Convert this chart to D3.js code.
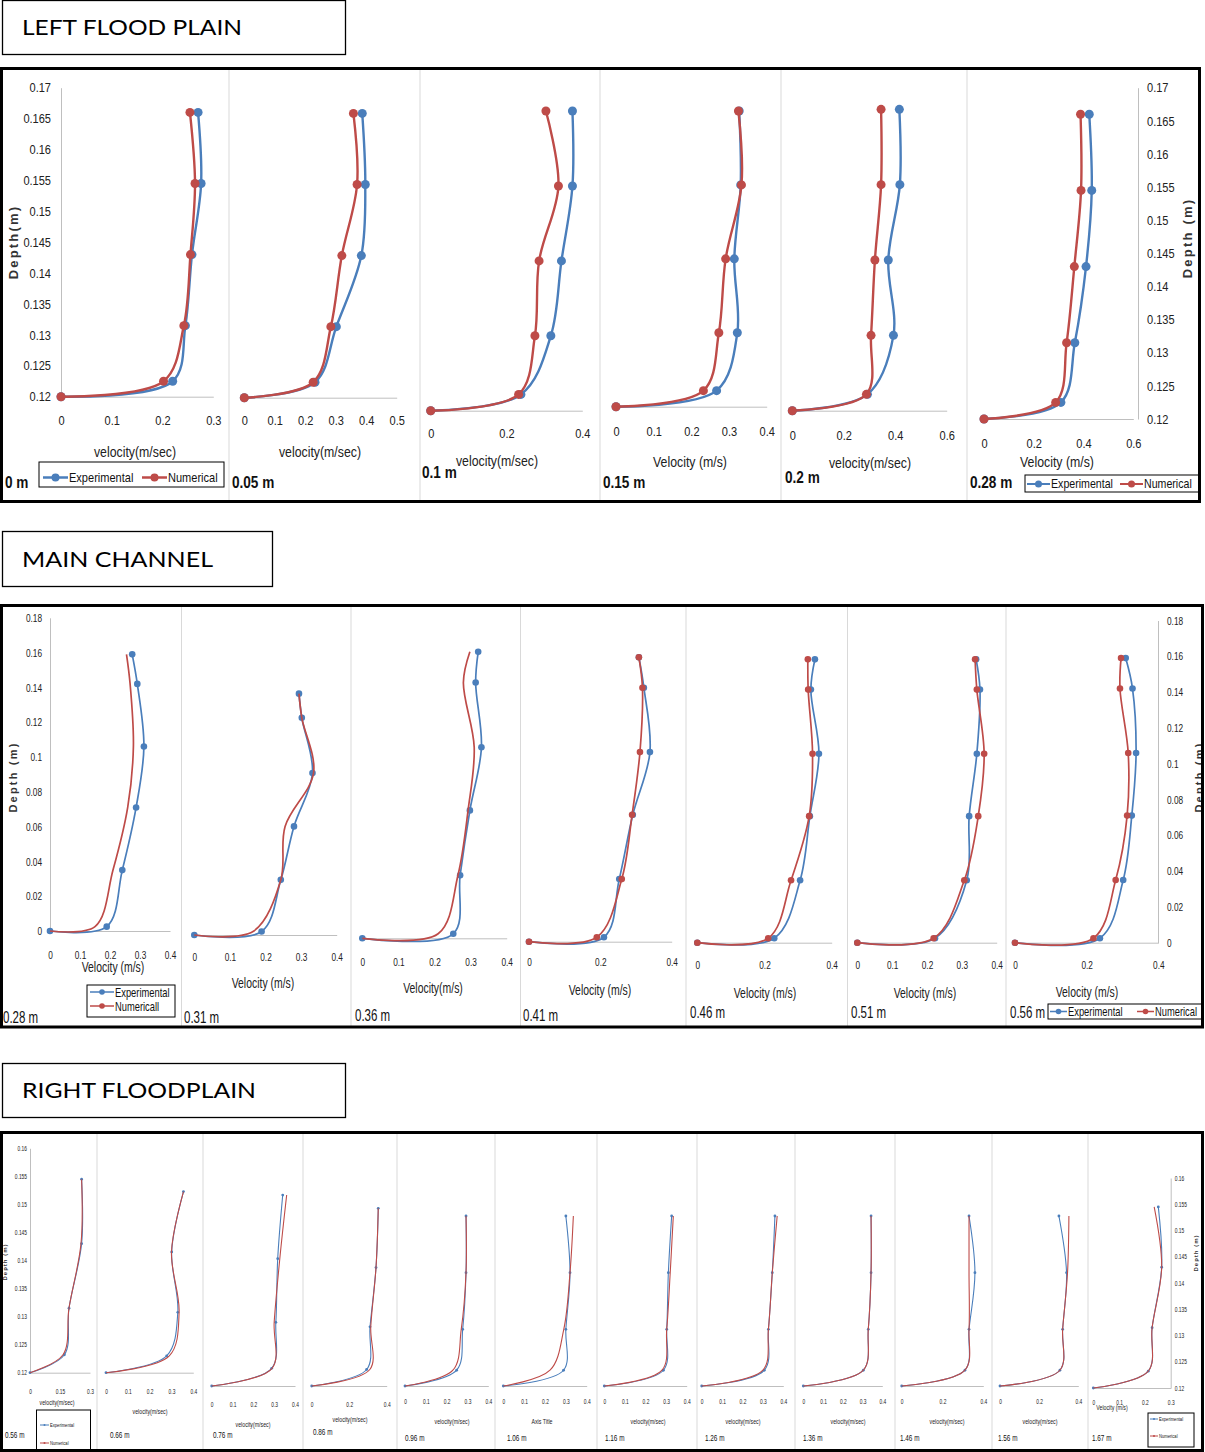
<!DOCTYPE html>
<html>
<head>
<meta charset="utf-8">
<script src="https://cdn.jsdelivr.net/npm/d3@7"></script>
<style>
  body { margin: 0; background: #fff; }
  svg { display: block; }
</style>
</head>
<body>
<script>
// ---- data: left flood plain ----
const lfLocations = ["0 m", "0.05 m", "0.1 m", "0.15 m", "0.2 m", "0.28 m"];
const lfDepth = [0.12, 0.1225, 0.1315, 0.143, 0.1545, 0.166];
const lfExp = [
  [0, 0.220, 0.245, 0.258, 0.276, 0.270],
  [0, 0.232, 0.302, 0.384, 0.397, 0.387],
  [0, 0.238, 0.317, 0.345, 0.374, 0.374],
  [0, 0.267, 0.322, 0.314, 0.331, 0.327],
  [0, 0.292, 0.393, 0.373, 0.418, 0.416],
  [0, 0.309, 0.365, 0.410, 0.433, 0.423]
];
const lfNum = [
  [0, 0.202, 0.242, 0.255, 0.264, 0.254],
  [0, 0.226, 0.284, 0.320, 0.370, 0.358],
  [0, 0.232, 0.275, 0.286, 0.337, 0.304],
  [0, 0.232, 0.273, 0.291, 0.333, 0.325],
  [0, 0.288, 0.306, 0.321, 0.345, 0.345],
  [0, 0.288, 0.332, 0.363, 0.390, 0.388]
];
const lfTicks = [[0, 0.1, 0.2, 0.3], [0, 0.1, 0.2, 0.3, 0.4, 0.5], [0, 0.2, 0.4], [0, 0.1, 0.2, 0.3, 0.4], [0, 0.2, 0.4, 0.6], [0, 0.2, 0.4, 0.6]];
const lfXTitles = ["velocity(m/sec)", "velocity(m/sec)", "velocity(m/sec)", "Velocity (m/s)", "velocity(m/sec)", "Velocity (m/s)"];
const lfDepthTicks = [0.12, 0.125, 0.13, 0.135, 0.14, 0.145, 0.15, 0.155, 0.16, 0.165, 0.17];

// ---- data: main channel ----
const mcLocations = ["0.28 m", "0.31 m", "0.36 m", "0.41 m", "0.46 m", "0.51 m", "0.56 m"];
const mcDepth = [0, 0.0025, 0.035, 0.071, 0.106, 0.142, 0.159];
const mcDepthShallow = [0, 0.002, 0.032, 0.063, 0.094, 0.126, 0.140];
const mcExp = [
  [0, 0.189, 0.241, 0.287, 0.313, 0.291, 0.274],
  [0, 0.189, 0.243, 0.280, 0.332, 0.302, 0.294],
  [0, 0.252, 0.271, 0.298, 0.330, 0.314, 0.321],
  [0, 0.210, 0.253, 0.291, 0.339, 0.322, 0.308],
  [0, 0.229, 0.306, 0.335, 0.362, 0.338, 0.350],
  [0, 0.223, 0.314, 0.321, 0.343, 0.352, 0.341],
  [0, 0.237, 0.302, 0.326, 0.338, 0.328, 0.309]
];
const mcNum = [
  [0, 0.150, 0.210, 0.259, 0.278, 0.267, 0.255],
  [0, 0.165, 0.243, 0.255, 0.335, 0.302, 0.294],
  [0, 0.210, 0.265, 0.293, 0.310, 0.280, 0.298],
  [0, 0.190, 0.260, 0.289, 0.311, 0.318, 0.308],
  [0, 0.211, 0.279, 0.333, 0.343, 0.330, 0.329],
  [0, 0.219, 0.307, 0.347, 0.364, 0.343, 0.338],
  [0, 0.219, 0.281, 0.313, 0.316, 0.293, 0.296]
];
const mcTicks = [[0, 0.1, 0.2, 0.3, 0.4], [0, 0.1, 0.2, 0.3, 0.4], [0, 0.1, 0.2, 0.3, 0.4], [0, 0.2, 0.4], [0, 0.2, 0.4], [0, 0.1, 0.2, 0.3, 0.4], [0, 0.2, 0.4]];
const mcXTitles = ["Velocity (m/s)", "Velocity (m/s)", "Velocity(m/s)", "Velocity (m/s)", "Velocity (m/s)", "Velocity (m/s)", "Velocity (m/s)"];
const mcDepthTicks = [0, 0.02, 0.04, 0.06, 0.08, 0.1, 0.12, 0.14, 0.16, 0.18];

// ---- data: right floodplain ----
const rfLocations = ["0.56 m", "0.66 m", "0.76 m", "0.86 m", "0.96 m", "1.06 m", "1.16 m", "1.26 m", "1.36 m", "1.46 m", "1.56 m", "1.67 m"];
const rfDepth = [0.12, 0.1232, 0.1315, 0.143, 0.1545];
const rfExp = [
  [0, 0.172, 0.195, 0.258, 0.258],
  [0, 0.278, 0.329, 0.301, 0.355],
  [0, 0.288, 0.308, 0.317, 0.341],
  [0, 0.293, 0.311, 0.343, 0.355],
  [0, 0.248, 0.277, 0.293, 0.293],
  [0, 0.289, 0.300, 0.320, 0.300],
  [0, 0.287, 0.303, 0.311, 0.327],
  [0, 0.307, 0.327, 0.346, 0.359],
  [0, 0.304, 0.329, 0.343, 0.343],
  [0, 0.310, 0.330, 0.359, 0.330],
  [0, 0.306, 0.320, 0.340, 0.301],
  [0, 0.213, 0.228, 0.265, 0.252]
];
const rfNum = [
  [0, 0.165, 0.195, 0.255, 0.258],
  [0, 0.290, 0.335, 0.300, 0.355],
  [0, 0.290, 0.300, 0.327, 0.360],
  [0, 0.310, 0.315, 0.343, 0.355],
  [0, 0.230, 0.270, 0.293, 0.293],
  [0, 0.224, 0.290, 0.320, 0.336],
  [0, 0.280, 0.303, 0.320, 0.335],
  [0, 0.300, 0.327, 0.346, 0.370],
  [0, 0.304, 0.329, 0.343, 0.343],
  [0, 0.310, 0.330, 0.330, 0.330],
  [0, 0.306, 0.320, 0.345, 0.352],
  [0, 0.213, 0.228, 0.265, 0.236]
];
const rfTicks = [[0, 0.15, 0.3], [0, 0.1, 0.2, 0.3, 0.4], [0, 0.1, 0.2, 0.3, 0.4], [0, 0.2, 0.4], [0, 0.1, 0.2, 0.3, 0.4], [0, 0.1, 0.2, 0.3, 0.4],
  [0, 0.1, 0.2, 0.3, 0.4], [0, 0.1, 0.2, 0.3, 0.4], [0, 0.1, 0.2, 0.3, 0.4], [0, 0.2, 0.4], [0, 0.2, 0.4], [0, 0.1, 0.2, 0.3]];
const rfXTitles = ["velocity(m/sec)", "velocity(m/sec)", "velocity(m/sec)", "velocity(m/sec)", "velocity(m/sec)", "Axis Title",
  "velocity(m/sec)", "velocity(m/sec)", "velocity(m/sec)", "velocity(m/sec)", "velocity(m/sec)", "Velocity (m/s)"];
const rfDepthTicks = [0.12, 0.125, 0.13, 0.135, 0.14, 0.145, 0.15, 0.155, 0.16];

const seriesNames = ["Experimental", "Numerical"];

// ---- drawing ----
const W = 1205, H = 1452;
const BLUE = "#4a7ebb", RED = "#be4b48";
const FONT = '"Liberation Sans", Arial, sans-serif';
const fmt = d => d === 0 ? "0" : d3.format("~g")(d);

const svg = d3.select("body").append("svg").attr("width", W).attr("height", H)
  .style("font-family", FONT);

let clipN = 0;
function panel(fr, seps) {
  const id = "clip" + (clipN++);
  svg.append("clipPath").attr("id", id).append("rect")
    .attr("x", fr[0]).attr("y", fr[1]).attr("width", fr[2]).attr("height", fr[3]);
  const g = svg.append("g").attr("clip-path", `url(#${id})`);
  seps.forEach(sx => g.append("line").attr("x1", sx).attr("x2", sx)
    .attr("y1", fr[1]).attr("y2", fr[1] + fr[3]).attr("stroke", "#d9d9d9").attr("stroke-width", 1));
  return g;
}

function titleBox(x, y, w, h, label, len) {
  svg.append("rect").attr("x", x).attr("y", y).attr("width", w).attr("height", h)
    .attr("fill", "#fff").attr("stroke", "#000").attr("stroke-width", 1.3);
  svg.append("text").attr("x", 22).attr("y", y + h / 2).attr("dy", "0.36em")
    .attr("font-family", "Lato, 'Open Sans', sans-serif").attr("font-size", 22)
    .attr("textLength", len).attr("lengthAdjust", "spacingAndGlyphs").text(label);
}

// squeeze text horizontally, like the narrow font of the original
function condense(g, s) {
  g.selectAll("text").each(function () {
    const t = d3.select(this);
    if (t.classed("ytitle")) return;
    const x = +t.attr("x") || 0, y = +t.attr("y") || 0;
    t.attr("transform", `translate(${x},${y}) scale(${s},1) translate(${-x},${-y})`);
  });
}

function profile(g, o) {
  const x = d3.scaleLinear().domain([0, d3.max(o.ticks)]).range([o.x0, o.x1]);
  const y = d3.scaleLinear().domain(o.yDomain).range([o.yBot, o.yTop]);
  const base = y(o.yDomain[0]);

  const ax = g.append("g").attr("transform", `translate(0,${base})`)
    .call(d3.axisBottom(x).tickValues(o.ticks).tickFormat(fmt).tickSize(0).tickSizeOuter(0));
  ax.attr("font-family", FONT).attr("font-size", o.fs);
  ax.select(".domain").attr("stroke", "#bfbfbf").attr("stroke-width", 1);
  ax.selectAll("text").attr("y", o.tickY - base).attr("dy", "0.35em").attr("fill", "#222");

  if (o.yAxis) {
    const a = (o.yAxis === "left" ? d3.axisLeft(y) : d3.axisRight(y))
      .tickValues(o.yTicks).tickFormat(fmt).tickSize(0).tickSizeOuter(0).tickPadding(o.yPad);
    const ya = g.append("g").attr("transform", `translate(${o.yAxisX},0)`).call(a);
    ya.attr("font-family", FONT).attr("font-size", o.fs);
    ya.select(".domain").attr("stroke", "#bfbfbf").attr("stroke-width", 1);
    ya.selectAll("text").attr("fill", "#222");
    g.append("text").attr("class", "ytitle")
      .attr("transform", `translate(${o.yTitle[0]},${o.yTitle[1]}) rotate(-90)`)
      .attr("text-anchor", "middle").attr("dy", "0.35em").attr("font-weight", "bold")
      .attr("letter-spacing", o.yTitleLs).attr("font-size", o.yTitleFs).attr("fill", "#333").text(o.yTitleText);
  }

  const line = d3.line().x(d => x(d.v)).y(d => y(d.d)).curve(d3.curveCatmullRom.alpha(0.5));
  [[o.exp, BLUE, o.expMk], [o.num, RED, o.numMk]].forEach(([vals, c, mk]) => {
    const pts = o.depth.map((d, i) => ({ d: d, v: vals[i] }));
    g.append("path").datum(pts).attr("d", line).attr("fill", "none")
      .attr("stroke", c).attr("stroke-width", o.lw);
    if (mk) {
      g.selectAll(null).data(pts).enter().append("circle")
        .attr("cx", d => x(d.v)).attr("cy", d => y(d.d)).attr("r", o.r).attr("fill", c);
    }
  });

  g.append("text").attr("x", o.title[0]).attr("y", o.title[1]).attr("dy", "0.35em")
    .attr("text-anchor", "middle").attr("font-size", o.titleFs).attr("fill", "#222").text(o.xTitle);
  g.append("text").attr("x", o.label[0]).attr("y", o.label[1]).attr("dy", "0.35em")
    .attr("font-size", o.labelFs).attr("font-weight", o.labelBold ? "bold" : "normal")
    .attr("fill", "#111").text(o.location);
}

function legend(g, box, fs, seg, r, items, names) {
  g.append("rect").attr("x", box[0]).attr("y", box[1]).attr("width", box[2]).attr("height", box[3])
    .attr("fill", "#fff").attr("stroke", "#000").attr("stroke-width", 1);
  items.forEach((it, i) => {
    const c = i === 0 ? BLUE : RED;
    g.append("line").attr("x1", it[0]).attr("x2", it[0] + seg).attr("y1", it[1]).attr("y2", it[1])
      .attr("stroke", c).attr("stroke-width", Math.max(1, r * 0.6));
    g.append("circle").attr("cx", it[0] + seg / 2).attr("cy", it[1]).attr("r", r).attr("fill", c);
    g.append("text").attr("x", it[0] + seg + 1).attr("y", it[1]).attr("dy", "0.35em")
      .attr("font-size", fs).attr("fill", "#111").text(names[i]);
  });
}

// ---- left flood plain ----
titleBox(2.5, 0.5, 343, 54, "LEFT FLOOD PLAIN", 220);
const lfFrame = [1.5, 68.5, 1198, 433];
const gL = panel(lfFrame, [229, 420, 600, 781, 967]);
const lfX0 = [61, 244.3, 430.7, 616, 792.3, 984];
const lfX1 = [213.3, 396.7, 582.3, 766.7, 946.7, 1133.3];
const lfYBot = [396.7, 397.7, 410.7, 406.7, 410.7, 419];
const lfYTop = [87.7, 88.7, 85, 85.3, 83.1, 87.7];
const lfTickY = [420, 420, 433, 431.7, 435, 443];
const lfTitleXY = [[135, 452], [320, 452], [497, 461], [690, 462], [870, 463], [1057, 462]];
const lfLabelXY = [[5, 482], [232, 482], [422, 472], [603, 482], [785, 477], [970, 482]];
lfLocations.forEach((loc, i) => {
  profile(gL, {
    x0: lfX0[i], x1: lfX1[i], yBot: lfYBot[i], yTop: lfYTop[i], yDomain: [0.12, 0.17],
    ticks: lfTicks[i], tickY: lfTickY[i], fs: 13, depth: lfDepth, exp: lfExp[i], num: lfNum[i],
    lw: 2.4, r: 4.5, expMk: true, numMk: true,
    yAxis: i === 0 ? "left" : (i === 5 ? "right" : null), yTicks: lfDepthTicks,
    yAxisX: i === 0 ? 61 : 1138, yPad: i === 0 ? 10 : 9,
    yTitle: i === 0 ? [13, 242] : [1187, 238], yTitleText: i === 0 ? "Depth(m)" : "Depth (m)",
    yTitleFs: 13, yTitleLs: 2.2,
    title: lfTitleXY[i], xTitle: lfXTitles[i], titleFs: 14.5,
    label: lfLabelXY[i], location: loc, labelFs: 16, labelBold: true
  });
});
legend(gL, [39, 462, 185, 25], 13, 25, 4, [[43, 477.5], [142, 477.5]], seriesNames);
legend(gL, [1025, 475, 180, 17], 12.5, 23, 3.5, [[1027, 484], [1120, 484]], seriesNames);
condense(gL, 0.85);

// ---- main channel ----
titleBox(2.5, 531.5, 270, 55, "MAIN CHANNEL", 191);
const mcFrame = [1.5, 605.5, 1201, 421.5];
const gM = panel(mcFrame, [181.5, 351, 520.5, 686, 847.5, 1006]);
const mcX0 = [50, 194.3, 362.3, 529, 697.3, 857.3, 1015];
const mcX1 = [170, 336.7, 506.7, 671.7, 831.7, 996.7, 1158.3];
const mcY0 = [931, 935, 938.3, 941.7, 942.7, 942.7, 942.7];
const mcY18 = [617.8, 624.7, 614, 619.7, 621.9, 621.9, 620.5];
const mcTickY = [955, 956.7, 961.7, 961.7, 965, 965, 965];
const mcTitleXY = [[113, 967], [263, 983], [433, 988], [600, 990], [765, 993], [925, 993], [1087, 992]];
const mcLabelXY = [[3, 1017], [184, 1017], [355, 1015], [523, 1015], [690, 1012], [851, 1012], [1010, 1012]];
const mcNumMarks = [false, false, false, true, true, true, true];
mcLocations.forEach((loc, i) => {
  profile(gM, {
    x0: mcX0[i], x1: mcX1[i], yBot: mcY0[i], yTop: mcY18[i], yDomain: [0, 0.18],
    ticks: mcTicks[i], tickY: mcTickY[i], fs: 11.5, depth: i === 1 ? mcDepthShallow : mcDepth,
    exp: mcExp[i], num: mcNum[i], lw: 1.7, r: 3.3, expMk: true, numMk: mcNumMarks[i],
    yAxis: i === 0 ? "left" : (i === 6 ? "right" : null), yTicks: mcDepthTicks,
    yAxisX: i === 0 ? 50 : 1158, yPad: i === 0 ? 8 : 9,
    yTitle: i === 0 ? [13, 777] : [1199, 777], yTitleText: "Depth (m)", yTitleFs: 11, yTitleLs: 2.2,
    title: mcTitleXY[i], xTitle: mcXTitles[i], titleFs: 14.5,
    label: mcLabelXY[i], location: loc, labelFs: 16, labelBold: false
  });
});
legend(gM, [87, 985, 88, 32], 13, 24, 2.8, [[90, 992], [90, 1006]], ["Experimental", "Numericall"]);
legend(gM, [1048, 1004, 160, 15], 13, 17, 2.8, [[1050, 1011.5], [1137, 1011.5]], seriesNames);
condense(gM, 0.72);

// ---- right floodplain ----
titleBox(2.5, 1063.5, 343, 54, "RIGHT FLOODPLAIN", 234);
const rfFrame = [1.5, 1132.5, 1201, 318];
const gR = panel(rfFrame, [97, 203, 303, 397, 495, 597, 697, 795, 895, 992, 1088]);
const rfX0 = [30, 106, 211.7, 311.7, 405, 503.3, 604.3, 701.7, 803.3, 901.7, 1000, 1093.3];
const rfX1 = [90, 193.3, 295, 386.7, 488.3, 586.7, 686.7, 783.3, 882.3, 983.3, 1078.3, 1170.7];
const rfYBot = [1372.7, 1372.7, 1386, 1386, 1386, 1386, 1386, 1386, 1386, 1386, 1386, 1388];
const rfYTop = [1148.3, 1162.7, 1164.6, 1180, 1188.9, 1188.9, 1188.9, 1188.9, 1188.9, 1188.9, 1188.9, 1178];
const rfTickY = [1391.7, 1391.7, 1405, 1405, 1401.7, 1401.7, 1401.7, 1401.7, 1401.7, 1401.7, 1401.7, 1403];
const rfTitleXY = [[57, 1403], [150, 1412], [253, 1425], [350, 1420], [452, 1422], [542, 1422], [648, 1422], [743, 1422], [848, 1422], [947, 1422], [1040, 1422], [1112, 1408]];
const rfLabelXY = [[5, 1435], [110, 1435], [213, 1435], [313, 1432], [405, 1438], [507, 1438], [605, 1438], [705, 1438], [803, 1438], [900, 1438], [998, 1438], [1092, 1438]];
rfLocations.forEach((loc, i) => {
  profile(gR, {
    x0: rfX0[i], x1: rfX1[i], yBot: rfYBot[i], yTop: rfYTop[i], yDomain: [0.12, 0.16],
    ticks: rfTicks[i], tickY: rfTickY[i], fs: 6.5, depth: rfDepth, exp: rfExp[i], num: rfNum[i],
    lw: 1.1, r: 1.4, expMk: true, numMk: false,
    yAxis: i === 0 ? "left" : (i === 11 ? "right" : null), yTicks: rfDepthTicks,
    yAxisX: i === 0 ? 30 : 1170.7, yPad: i === 0 ? 3 : 4,
    yTitle: i === 0 ? [5, 1262] : [1196, 1253], yTitleText: "Depth (m)", yTitleFs: 6, yTitleLs: 1,
    title: rfTitleXY[i], xTitle: rfXTitles[i], titleFs: 7,
    label: rfLabelXY[i], location: loc, labelFs: 8.5, labelBold: false
  });
});
legend(gR, [36.5, 1410, 54, 42], 5.5, 9, 1, [[40, 1425], [40, 1443]], seriesNames);
legend(gR, [1148, 1413, 46, 34], 5.5, 8, 1, [[1150, 1419], [1150, 1436]], seriesNames);
condense(gR, 0.75);

// frames on top
[lfFrame, mcFrame, rfFrame].forEach(fr => {
  svg.append("rect").attr("x", fr[0]).attr("y", fr[1]).attr("width", fr[2]).attr("height", fr[3])
    .attr("fill", "none").attr("stroke", "#000").attr("stroke-width", 3);
});
</script>
</body>
</html>
